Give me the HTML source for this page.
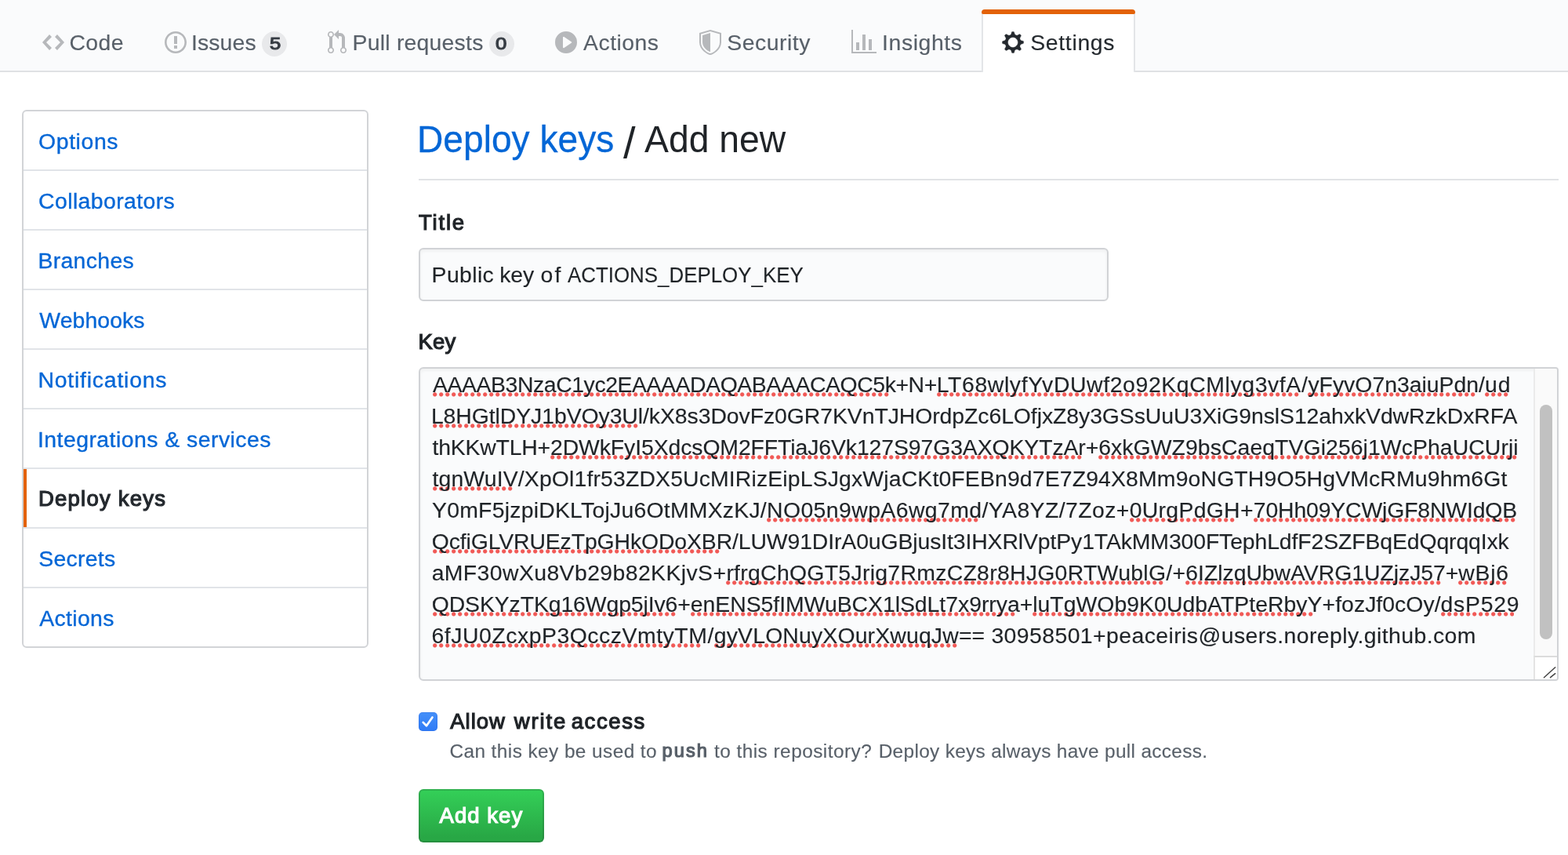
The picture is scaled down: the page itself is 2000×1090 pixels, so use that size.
<!DOCTYPE html>
<html lang="en">
<head>
<meta charset="utf-8">
<title>Deploy keys / Add new</title>
<style>
*{box-sizing:border-box}
html,body{margin:0;padding:0}
body{width:2000px;height:1090px;background:#fff;color:#1f2327;
  font-family:"Liberation Sans",Arial,sans-serif;font-size:28.4px;line-height:42px;position:relative;-webkit-text-stroke:0.005em currentColor}
a{color:#0366d6;text-decoration:none}
.reponav,.menu,.main{will-change:transform}

/* ---------- repo nav ---------- */
.reponav{position:absolute;left:0;top:0;width:2000px;height:92px;background:#fafbfc;border-bottom:2px solid #dfe1e4}
.tab{position:absolute;top:12px;height:80px;color:#586069;white-space:nowrap;border:2px solid transparent;border-top-width:6px;border-bottom:0;border-radius:6px 6px 0 0}
.tab svg{position:absolute;top:20px;fill:rgba(27,31,35,.3)}
.tab .t{position:absolute;top:14px;line-height:42px}
.tab.selected{background:#fff;color:#24292e;border-color:transparent #e3e5e8 transparent;background-clip:padding-box}
.tab.selected::before{content:"";position:absolute;left:-2px;right:-2px;top:-6px;height:6px;background:#e36209;border-radius:4px 4px 2px 2px}
.tab.selected svg{fill:#24292e}
.counter{position:absolute;top:22px;height:32px;border-radius:16px;background:rgba(27,31,35,.08);color:#363c43;-webkit-text-stroke:1.1px currentColor;
  font-size:22.6px;font-weight:normal;line-height:32px}
.counter b{position:absolute;line-height:32px;font-weight:normal;transform:scaleX(1.14);transform-origin:50% 50%}

/* ---------- side menu ---------- */
.menu{position:absolute;left:28px;top:140px;width:442px;height:686px;border:2px solid #d2d4d7;border-radius:6px;background:#fff;margin:0;padding:0;list-style:none}
.menu li{position:relative;height:76px;border-bottom:2px solid #e1e4e8;margin:0;padding:0}
.menu li:last-child{border-bottom:0;height:74px}
.menu a{display:block;height:74px}
.menu a span{position:absolute;line-height:42px;white-space:nowrap}
.menu a{-webkit-text-stroke:0.35px currentColor}
.menu li.selected a{color:#24292e;font-weight:normal;font-size:27.5px;-webkit-text-stroke:1.2px currentColor}
.menu li.selected::before{content:"";position:absolute;left:0;top:0;bottom:0;width:4px;background:#e36209}

/* ---------- main ---------- */
.main{position:absolute;left:534px;top:141px;width:1454px}
h1{position:absolute;left:0;top:0;margin:0;width:1454px;height:89px;border-bottom:2px solid #e1e3e6;font-size:49px;font-weight:normal;line-height:72px;white-space:nowrap;-webkit-text-stroke:0}
h1 span,h1 a{position:absolute}
h1 a{-webkit-text-stroke:0.3px currentColor}
#h-b{font-size:56px}
label.lbl{position:absolute;font-weight:normal;font-size:27.5px;-webkit-text-stroke:1.2px currentColor;line-height:42px;white-space:nowrap}
.field{position:absolute;background:#fafbfc;border:2px solid #d1d3d6;border-radius:6px;box-shadow:inset 0 2px 4px rgba(27,31,35,.06)}
.field.title{left:0;top:175px;width:880px;height:68px}
.field.title span{position:absolute;line-height:42px;white-space:nowrap}
.field.key{left:0;top:327px;width:1454px;height:400px;overflow:hidden;border-radius:6px 4px 4px 6px}
.key .ln{position:absolute;z-index:0;height:40px;line-height:40px;white-space:pre}
.key .sp{position:relative}
.key .sp::after{content:"";position:absolute;z-index:-1;left:var(--o);top:26.7px;width:var(--u);height:6px;background:radial-gradient(circle at 2.7px 2.9px,#f15a57 0,#f15a57 2.1px,rgba(241,90,87,0) 3.1px) 0 0/8px 6px repeat-x}
.sbar{position:absolute;right:0;top:0;width:30px;height:366px;background:#fafafa;border-left:2px solid #ebebeb}
.sbar i{position:absolute;left:6px;top:46px;width:16px;height:299px;border-radius:8px;background:#c1c1c1}
.rsz{position:absolute;right:0;bottom:0;width:30px;height:30px;background:#fff;border-left:2px solid #e4e4e4;border-top:2px solid #dcdcdc}
.rsz svg{position:absolute;right:0;bottom:0}
.cb{position:absolute;left:0;top:767px;width:24px;height:24px;border-radius:5px;background:linear-gradient(#4590f9,#2f7bf6);box-shadow:inset 0 0 0 1px rgba(30,90,220,.25)}
.cb svg{position:absolute;left:0;top:0}
.cbl span{position:absolute;white-space:nowrap}
.cbl{position:absolute;font-weight:normal;font-size:27.5px;-webkit-text-stroke:1.2px currentColor;line-height:42px;white-space:nowrap}
.note{position:absolute;margin:0;font-size:24.4px;line-height:34px;color:#586069;white-space:nowrap}
.note span,.note b{position:absolute;white-space:nowrap}
.note b{font-weight:normal;font-size:23.6px;-webkit-text-stroke:1.2px currentColor}
.btn{position:absolute;left:0;top:865px;width:160px;height:68px;padding:0;margin:0;font-family:inherit;text-align:left;cursor:pointer;border:2px solid rgba(27,31,35,.17);border-radius:6px;
  background-color:#28a745;background-image:linear-gradient(-180deg,#34d058 0%,#28a745 90%);background-origin:border-box;
  color:#fff;font-weight:normal;-webkit-text-stroke:1.2px currentColor;font-size:27.5px;line-height:40px;white-space:nowrap}
.btn span{position:absolute}
</style>
</head>
<body>

<nav class="reponav">
  <a class="tab" style="left:28px;width:156px">
    <svg style="left:24px" width="28" height="32" viewBox="0 0 14 16"><path fill-rule="evenodd" d="M9.5 3L8 4.500 11.500 8 8 11.500 9.500 13 14 8 9.500 3zm-5 0L0 8l4.500 5L6 11.500 2.500 8 6 4.500 4.500 3z"/></svg>
    <span class="t" id="t-code" style="left:58.48px;top:14.61px;letter-spacing:0.388px">Code</span>
  </a>
  <a class="tab" style="left:184px;width:208px">
    <svg style="left:24px" width="28" height="32" viewBox="0 0 14 16"><path fill-rule="evenodd" d="M7 2.300c3.140 0 5.700 2.560 5.700 5.700s-2.560 5.700-5.700 5.700A5.710 5.710 0 0 1 1.300 8c0-3.140 2.560-5.700 5.700-5.700zM7 1C3.140 1 0 4.140 0 8s3.140 7 7 7 7-3.140 7-7-3.140-7-7-7zm1 3H6v5h2V4zm0 6H6v2h2v-2z"/></svg>
    <span class="t" id="t-issues" style="left:57.93px;top:14.61px;letter-spacing:0.138px">Issues</span>
    <span class="counter" style="left:148px;width:32px"><b id="c-issues" style="left:10.72px;top:-0.01px;letter-spacing:0.000px">5</b></span>
  </a>
  <a class="tab" style="left:391px;width:290px">
    <svg style="left:25px" width="24" height="32" viewBox="0 0 12 16"><path fill-rule="evenodd" d="M11 11.280V5c-.030-.780-.340-1.470-.940-2.060C9.460 2.350 8.780 2.030 8 2H7V0L4 3l3 3V4h1c.270.020.480.110.690.310.210.200.300.420.310.690v6.280A1.993 1.993 0 0 0 10 15a1.993 1.993 0 0 0 1-3.720zm-1 2.920c-.660 0-1.200-.550-1.200-1.200 0-.650.550-1.200 1.200-1.200.650 0 1.200.550 1.200 1.200 0 .650-.550 1.200-1.200 1.200zM4 3c0-1.110-.890-2-2-2a1.993 1.993 0 0 0-1 3.720v6.560A1.993 1.993 0 0 0 2 15a1.993 1.993 0 0 0 1-3.720V4.720c.590-.340 1-.980 1-1.720zm-.800 10c0 .660-.550 1.200-1.200 1.200-.650 0-1.200-.550-1.200-1.200 0-.650.550-1.200 1.200-1.200.650 0 1.200.550 1.200 1.200zM2 4.200C1.340 4.200.800 3.650.800 3c0-.650.550-1.200 1.200-1.200.650 0 1.200.550 1.200 1.200 0 .650-.550 1.200-1.200 1.200z"/></svg>
    <span class="t" id="t-pulls" style="left:56.61px;top:14.61px;letter-spacing:0.216px">Pull requests</span>
    <span class="counter" style="left:231px;width:32px"><b id="c-pulls" style="left:9.20px;top:-0.01px;letter-spacing:0.000px">0</b></span>
  </a>
  <a class="tab" style="left:682px;width:184px">
    <svg style="left:24px" width="28" height="32" viewBox="0 0 14 16"><path fill-rule="evenodd" d="M14 8A7 7 0 1 1 0 8a7 7 0 0 1 14 0zm-8.223 3.482l4.599-3.066a.5.5 0 0 0 0-.832L5.777 4.518A.5.5 0 0 0 5 4.934v6.132a.5.5 0 0 0 .777.416z"/></svg>
    <span class="t" id="t-actions" style="left:60.10px;top:14.61px;letter-spacing:0.469px">Actions</span>
  </a>
  <a class="tab" style="left:865px;width:196px">
    <svg style="left:25px" width="28" height="32" viewBox="0 0 14 16"><path fill-rule="evenodd" d="M0 2l7-2 7 2v6.020C14 12.690 8.690 16 7 16c-1.690 0-7-3.310-7-7.980V2zm1 .750L7 1l6 1.750v5.268C13 12.104 8.449 15 7 15c-1.449 0-6-2.896-6-6.982V2.750zm1 .750L7 2v12c-1.207 0-5-2.482-5-5.985V3.500z"/></svg>
    <span class="t" id="t-security" style="left:60.18px;top:14.61px;letter-spacing:0.522px">Security</span>
  </a>
  <a class="tab" style="left:1060px;width:194px">
    <svg style="left:24px" width="32" height="32" viewBox="0 0 16 16"><path fill-rule="evenodd" d="M16 14v1H0V0h1v14h15zM5 13H3V8h2v5zm4 0H7V3h2v10zm4 0h-2V6h2v7z"/></svg>
    <span class="t" id="t-insights" style="left:63.05px;top:14.61px;letter-spacing:0.587px">Insights</span>
  </a>
  <a class="tab selected" style="left:1252px;width:196px">
    <svg style="left:24px;stroke:#fff;stroke-width:.3px" width="28" height="32" viewBox="0 0 14 16"><path fill-rule="evenodd" d="M14 8.770v-1.600l-1.940-.640-.450-1.090.880-1.840-1.130-1.130-1.810.910-1.090-.450-.690-1.920h-1.600l-.630 1.940-1.110.450-1.840-.880-1.130 1.130.910 1.810-.450 1.090L0 7.230v1.590l1.940.640.450 1.090-.880 1.840 1.130 1.130 1.810-.910 1.090.450.690 1.920h1.590l.630-1.940 1.110-.450 1.840.880 1.130-1.130-.920-1.810.470-1.090L14 8.750v.020zM7 11c-1.660 0-3-1.340-3-3s1.340-3 3-3 3 1.340 3 3-1.340 3-3 3z"/></svg>
    <span class="t" id="t-settings" style="left:60.18px;top:14.61px;letter-spacing:0.682px">Settings</span>
  </a>
</nav>

<ul class="menu">
  <li><a><span id="m1" style="left:19.08px;top:16.70px;letter-spacing:0.590px">Options</span></a></li>
  <li><a><span id="m2" style="left:19.09px;top:16.70px;letter-spacing:0.405px">Collaborators</span></a></li>
  <li><a><span id="m3" style="left:18.43px;top:16.70px;letter-spacing:0.339px">Branches</span></a></li>
  <li><a><span id="m4" style="left:20.31px;top:16.70px;letter-spacing:0.086px">Webhooks</span></a></li>
  <li><a><span id="m5" style="left:18.43px;top:16.70px;letter-spacing:0.791px">Notifications</span></a></li>
  <li><a><span id="m6" style="left:17.91px;top:16.70px;letter-spacing:0.471px">Integrations &amp; services</span></a></li>
  <li class="selected"><a><span id="m7" style="left:18.92px;top:16.71px;letter-spacing:1.232px">Deploy keys</span></a></li>
  <li><a><span id="m8" style="left:19.19px;top:16.70px;letter-spacing:0.296px">Secrets</span></a></li>
  <li><a><span id="m9" style="left:20.18px;top:16.70px;letter-spacing:0.361px">Actions</span></a></li>
</ul>

<main class="main">
  <h1><a id="h-a" style="left:-2.06px;top:0.00px;letter-spacing:0.000px;transform:scaleX(0.9415);transform-origin:0 50%">Deploy keys</a> <span id="h-b" style="left:260.92px;top:4.60px;letter-spacing:0.000px">/</span> <span id="h-c" style="left:288.36px;top:0.00px;letter-spacing:0.000px;transform:scaleX(0.9452);transform-origin:0 50%">Add new</span></h1>

  <label class="lbl" id="l-title" style="left:0.00px;top:121.80px;letter-spacing:1.796px">Title</label>
  <div class="field title"><span id="v1" style="left:14.62px;top:10.80px;letter-spacing:0.369px">Public</span> <span id="v2" style="left:101.13px;top:10.80px;letter-spacing:-0.095px">key</span> <span id="v3" style="left:153.57px;top:10.80px;letter-spacing:2.122px">of</span> <span id="v4" style="left:187.93px;top:10.80px;letter-spacing:0.000px;transform:scaleX(0.9119);transform-origin:0 50%">ACTIONS_DEPLOY_KEY</span></div>

  <label class="lbl" id="l-key" style="left:-0.64px;top:273.51px;letter-spacing:0.264px">Key</label>
  <div class="field key">
    <div class="ln" id="k1" style="left:16.00px;top:-0.30px;letter-spacing:0.000px"><span class="sp" style="letter-spacing:-0.422px;--u:581.8px;--o:0.0px">AAAAB3NzaC1yc2EAAAADAQABAAACAQC5k</span><span style="letter-spacing:-0.422px">+N+</span><span class="sp" style="letter-spacing:0.603px;--u:461.8px;--o:0.0px">LT68wlyfYvDUwf2o92KqCMlyg3vfA</span><span style="letter-spacing:0.603px">/</span><span class="sp" style="letter-spacing:-0.006px;--u:213.8px;--o:0.0px">yFyvO7n3aiuPdn</span><span style="letter-spacing:-0.006px">/</span><span class="sp" style="letter-spacing:1.053px;--u:29.8px;--o:0.0px">ud</span></div>
    <div class="ln" id="k2" style="left:13.90px;top:39.70px;letter-spacing:0.000px"><span class="sp" style="letter-spacing:-0.073px;--u:261.8px;--o:2.1px">L8HGtlDYJ1bVOy3Ul</span><span style="letter-spacing:-0.073px">/kX8s3DovFz0GR7KVnTJHOrdpZc6LOfjxZ8y3GSsUuU3XiG9nslS12ahxkVdwRzkDxRFA</span></div>
    <div class="ln" id="k3" style="left:15.47px;top:79.70px;letter-spacing:0.000px"><span style="letter-spacing:-0.195px">thKKwTLH+</span><span class="sp" style="letter-spacing:-0.101px;--u:677.8px;--o:0.0px">2DWkFyI5XdcsQM2FFTiaJ6Vk127S97G3AXQKYTzAr</span><span style="letter-spacing:-0.101px">+</span><span class="sp" style="letter-spacing:0.067px;--u:533.8px;--o:0.0px">6xkGWZ9bsCaeqTVGi256j1WcPhaUCUrji</span></div>
    <div class="ln" id="k4" style="left:15.47px;top:119.70px;letter-spacing:0.000px"><span class="sp" style="letter-spacing:0.140px;--u:101.8px;--o:0.5px">tgnWuIV</span><span style="letter-spacing:0.140px">/XpOl1fr53ZDX5UcMIRizEipLSJgxWjaCKt0FEBn9d7E7Z94X8Mm9oNGTH9O5HgVMcRMu9hm6Gt</span></div>
    <div class="ln" id="k5" style="left:15.06px;top:159.70px;letter-spacing:0.000px"><span style="letter-spacing:0.230px">Y0mF5jzpiDKLTojJu6OtMMXzKJ/</span><span class="sp" style="letter-spacing:0.414px;--u:269.8px;--o:0.0px">NO05n9wpA6wg7md</span><span style="letter-spacing:0.414px">/YA8YZ/7Zoz+</span><span class="sp" style="letter-spacing:0.283px;--u:133.8px;--o:0.0px">0UrgPdGH</span><span style="letter-spacing:0.283px">+</span><span class="sp" style="letter-spacing:-0.154px;--u:333.8px;--o:0.0px">70Hh09YCWjGF8NWIdQB</span></div>
    <div class="ln" id="k6" style="left:14.68px;top:199.70px;letter-spacing:0.000px"><span class="sp" style="letter-spacing:-0.119px;--u:365.8px;--o:1.3px">QcfiGLVRUEzTpGHkODoXBR</span><span style="letter-spacing:-0.119px">/LUW91DIrA0uGBjusIt3IHXRlVptPy1TAkMM300FTephLdfF2SZFBqEdQqrqqIxk</span></div>
    <div class="ln" id="k7" style="left:14.64px;top:239.70px;letter-spacing:0.000px"><span style="letter-spacing:0.400px">aMF30wXu8Vb29b82KKjvS+</span><span class="sp" style="letter-spacing:0.289px;--u:557.8px;--o:0.0px">rfrgChQGT5Jrig7RmzCZ8r8HJG0RTWublG</span><span style="letter-spacing:0.289px">/+</span><span class="sp" style="letter-spacing:-0.044px;--u:325.8px;--o:0.0px">6IZlzqUbwAVRG1UZjzJ57</span><span style="letter-spacing:-0.044px">+</span><span class="sp" style="letter-spacing:0.688px;--u:61.8px;--o:0.0px">wBj6</span></div>
    <div class="ln" id="k8" style="left:14.68px;top:279.70px;letter-spacing:0.000px"><span class="sp" style="letter-spacing:-0.103px;--u:309.8px;--o:1.3px">QDSKYzTKg16Wgp5jIv6</span><span style="letter-spacing:-0.103px">+</span><span class="sp" style="letter-spacing:-0.035px;--u:413.8px;--o:0.0px">enENS5fIMWuBCX1lSdLt7x9rrya</span><span style="letter-spacing:-0.035px">+</span><span class="sp" style="letter-spacing:0.030px;--u:357.8px;--o:0.0px">luTgWOb9K0UdbATPteRbyY</span><span style="letter-spacing:0.030px">+fozJf0cOy/</span><span class="sp" style="letter-spacing:0.734px;--u:93.8px;--o:0.0px">dsP529</span></div>
    <div class="ln" id="k9" style="left:14.52px;top:319.70px;letter-spacing:0.000px"><span class="sp" style="letter-spacing:0.529px;--u:341.8px;--o:1.5px">6fJU0ZcxpP3QcczVmtyTM</span><span style="letter-spacing:0.529px">/</span><span class="sp" style="letter-spacing:0.156px;--u:309.8px;--o:0.0px">gyVLONuyXOurXwuqJw</span><span style="letter-spacing:0.156px">== </span><span style="letter-spacing:0.420px">30958501+peaceiris@users.noreply.github.com</span></div>
    <div class="sbar"><i></i></div>
    <div class="rsz"><svg width="28" height="26" viewBox="0 0 28 26"><path d="M11.4 23.700L25.700 10.700M19.500 23.700L25.700 18.700" stroke="#444" stroke-width="1.5" stroke-linecap="round" fill="none"/></svg></div>
  </div>

  <span class="cb"><svg width="24" height="24" viewBox="0 0 24 24"><path d="M5.7 12.900L10 17.300L17.500 6.500" stroke="#fff" stroke-width="2.7" fill="none" stroke-linecap="round" stroke-linejoin="round"/></svg></span>
  <label class="cbl" style="left:40px;top:758px"><span id="a1" style="left:0.31px;top:-0.11px;letter-spacing:0.970px">Allow</span> <span id="a2" style="left:81.72px;top:-0.11px;letter-spacing:1.900px">write</span> <span id="a3" style="left:154.63px;top:-0.11px;letter-spacing:1.613px">access</span></label>
  <p class="note" style="left:40px;top:800px"><span id="n1" style="left:-0.60px;top:-0.50px;letter-spacing:0.422px">Can this key be used to</span> <b id="n2" style="left:270.56px;top:-1.00px;letter-spacing:2.066px">push</b> <span id="n3" style="left:336.96px;top:-0.50px;letter-spacing:0.464px">to this repository?</span> <span id="n4" style="left:546.68px;top:-0.50px;letter-spacing:0.323px">Deploy keys always have pull access.</span></p>

  <button class="btn" type="submit"><span id="b-add" style="left:24.60px;top:11.71px;letter-spacing:1.030px">Add key</span></button>
</main>

</body>
</html>
